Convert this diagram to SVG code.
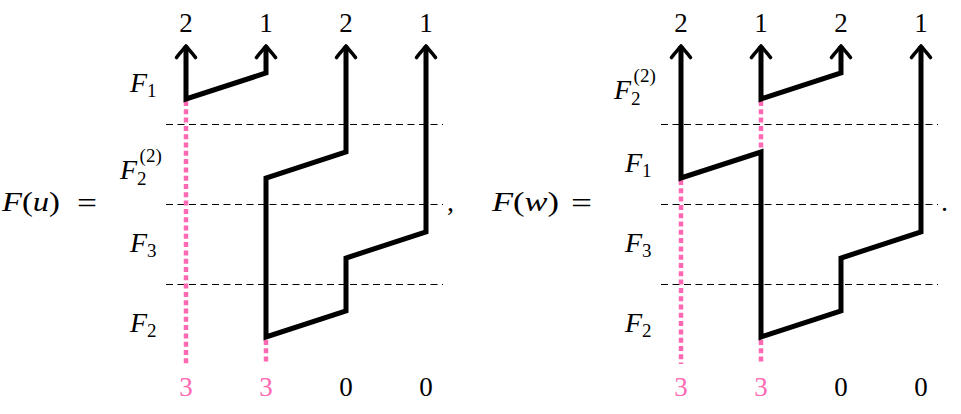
<svg xmlns="http://www.w3.org/2000/svg" xmlns:xlink="http://www.w3.org/1999/xlink" width="961" height="414" viewBox="0 0 961 414" font-family="Liberation Serif, serif">
<style>
.t{font-size:28px;fill:#000}
.i{font-style:italic}
.s{font-size:19px}
.lhs{font-size:28px}
.eq{font-size:30px}
.num{font-size:27px;text-anchor:middle}
.pk{fill:#ff69b4}
.str{fill:none;stroke:#000;stroke-width:5;stroke-linejoin:miter;stroke-linecap:butt}
.pd{fill:none;stroke:#ff69b4;stroke-width:4.5;stroke-dasharray:5 3.3}
.dash{fill:none;stroke:#000;stroke-width:1;stroke-dasharray:7 4.5}
.ah{fill:none;stroke:#000;stroke-width:3.6;stroke-linecap:round;stroke-linejoin:round}
</style>
<defs>
<path id="ah" class="ah" d="M-9.5,11.5 C-6,6.5 -2.5,3.5 0,0 C2.5,3.5 6,6.5 9.5,11.5"/>
</defs>

<!-- LEFT DIAGRAM -->
<g id="left-eq">
<text class="t lhs" x="2" y="211" textLength="58" lengthAdjust="spacingAndGlyphs"><tspan class="i">F</tspan>(<tspan class="i">u</tspan>)</text>
<text class="t eq" x="77" y="213" textLength="20" lengthAdjust="spacingAndGlyphs">=</text>
<text class="t" x="447" y="211">,</text>
</g>
<g id="left-rowlabels">
<text class="t" x="130" y="92"><tspan class="i">F</tspan><tspan class="s" dy="5">1</tspan></text>
<text class="t" x="120" y="179"><tspan class="i">F</tspan><tspan class="s" dy="6">2</tspan><tspan class="s" dx="-7" dy="-23">(2)</tspan></text>
<text class="t" x="130" y="252"><tspan class="i">F</tspan><tspan class="s" dy="5">3</tspan></text>
<text class="t" x="130" y="332"><tspan class="i">F</tspan><tspan class="s" dy="5">2</tspan></text>
</g>
<g id="left-top">
<text class="num" x="186" y="32">2</text>
<text class="num" x="266" y="32">1</text>
<text class="num" x="346" y="32">2</text>
<text class="num" x="426" y="32">1</text>
</g>
<g id="left-bottom">
<text class="num pk" x="186" y="396">3</text>
<text class="num pk" x="266" y="396">3</text>
<text class="num" x="346" y="396">0</text>
<text class="num" x="426" y="396">0</text>
</g>
<g id="left-connectors">
<line class="dash" x1="166" y1="124.5" x2="443" y2="124.5"/>
<line class="dash" x1="166" y1="204.5" x2="443" y2="204.5"/>
<line class="dash" x1="166" y1="284.5" x2="443" y2="284.5"/>
<line class="pd" x1="186" y1="101" x2="186" y2="364"/>
<line class="pd" x1="266" y1="340" x2="266" y2="364"/>
<polyline class="str" points="186,46 186,99 266,73 266,46"/>
<polyline class="str" points="346,46 346,152 266,178 266,337 346,311 346,258 426,232 426,46"/>
<use xlink:href="#ah" x="186" y="46"/>
<use xlink:href="#ah" x="266" y="46"/>
<use xlink:href="#ah" x="346" y="46"/>
<use xlink:href="#ah" x="426" y="46"/>
</g>

<!-- RIGHT DIAGRAM -->
<g id="right-eq">
<text class="t lhs" x="492" y="211" textLength="67" lengthAdjust="spacingAndGlyphs"><tspan class="i">F</tspan>(<tspan class="i">w</tspan>)</text>
<text class="t eq" x="571" y="213" textLength="21" lengthAdjust="spacingAndGlyphs">=</text>
<text class="t" x="941" y="211">.</text>
</g>
<g id="right-rowlabels">
<text class="t" x="614" y="99"><tspan class="i">F</tspan><tspan class="s" dy="6">2</tspan><tspan class="s" dx="-7" dy="-23">(2)</tspan></text>
<text class="t" x="625" y="172"><tspan class="i">F</tspan><tspan class="s" dy="5">1</tspan></text>
<text class="t" x="625" y="252"><tspan class="i">F</tspan><tspan class="s" dy="5">3</tspan></text>
<text class="t" x="625" y="332"><tspan class="i">F</tspan><tspan class="s" dy="5">2</tspan></text>
</g>
<g id="right-top">
<text class="num" x="681" y="32">2</text>
<text class="num" x="761" y="32">1</text>
<text class="num" x="841" y="32">2</text>
<text class="num" x="921" y="32">1</text>
</g>
<g id="right-bottom">
<text class="num pk" x="681" y="396">3</text>
<text class="num pk" x="761" y="396">3</text>
<text class="num" x="841" y="396">0</text>
<text class="num" x="921" y="396">0</text>
</g>
<g id="right-connectors">
<line class="dash" x1="661" y1="124.5" x2="938" y2="124.5"/>
<line class="dash" x1="661" y1="204.5" x2="938" y2="204.5"/>
<line class="dash" x1="661" y1="284.5" x2="938" y2="284.5"/>
<line class="pd" x1="681" y1="180" x2="681" y2="364"/>
<line class="pd" x1="761" y1="101" x2="761" y2="150"/>
<line class="pd" x1="761" y1="340" x2="761" y2="364"/>
<polyline class="str" points="761,46 761,99 841,73 841,46"/>
<polyline class="str" points="681,46 681,178 761,152 761,337 841,311 841,258 921,232 921,46"/>
<use xlink:href="#ah" x="681" y="46"/>
<use xlink:href="#ah" x="761" y="46"/>
<use xlink:href="#ah" x="841" y="46"/>
<use xlink:href="#ah" x="921" y="46"/>
</g>
</svg>
